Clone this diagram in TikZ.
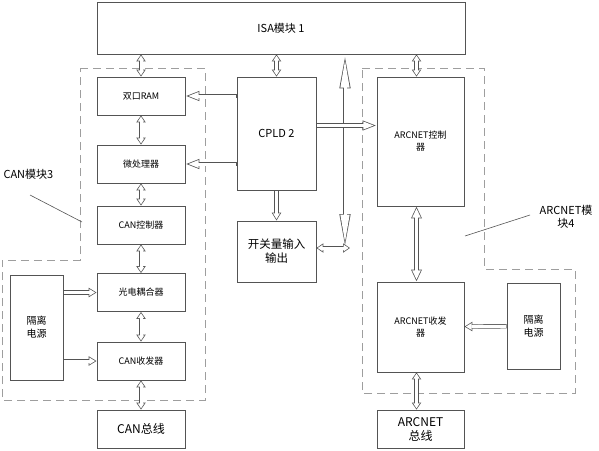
\documentclass[tikz,border=0pt]{standalone}
\usepackage{fontspec}
\setmainfont{Noto Sans CJK SC}
\usetikzlibrary{arrows.meta}
\definecolor{boxline}{rgb}{0.33, 0.33, 0.33}
\definecolor{modline}{rgb}{0.62, 0.62, 0.62}
\tikzset{
    blk/.style={draw=boxline,line width=0.8pt,align=center,inner sep=1pt,font=\fontsize{9}{12}\selectfont},
    big/.style={font=\fontsize{11}{13}\selectfont},
    hollow/.style={draw=boxline,line width=4.4pt},
    % single head, long / short
    one/.style={hollow,-{Triangle[length=14pt,width=9pt]},
        postaction={draw=white,line width=3pt,shorten <=0.4pt,shorten >=2.3pt,-{Triangle[length=11pt,width=7.1pt]}}},
    stub/.style={hollow,-{Triangle[length=8pt,width=9pt]},
        postaction={draw=white,line width=3pt,shorten <=0.4pt,shorten >=1.4pt,-{Triangle[length=5.9pt,width=6.6pt]}}},
    % two heads
    both/.style={hollow,{Triangle[length=7pt,width=9pt]}-{Triangle[length=7pt,width=9pt]},
        postaction={draw=white,line width=3pt,shorten <=1.3pt,shorten >=1.3pt,{Triangle[length=5pt,width=6.4pt]}-{Triangle[length=5pt,width=6.4pt]}}},
    bothlong/.style={hollow,{Triangle[length=12pt,width=10pt]}-{Triangle[length=12pt,width=10pt]},
        postaction={draw=white,line width=3pt,shorten <=1.8pt,shorten >=1.8pt,{Triangle[length=9.5pt,width=7.9pt]}-{Triangle[length=9.5pt,width=7.9pt]}}},
    longtip/.style={hollow,{Triangle[length=34pt,width=10pt]}-{Triangle[length=34pt,width=10pt]},
        postaction={draw=white,line width=3pt,shorten <=4.8pt,shorten >=4.8pt,{Triangle[length=28.5pt,width=8.4pt]}-{Triangle[length=28.5pt,width=8.4pt]}}},
    module/.style={draw=modline,line width=0.8pt,dash pattern=on 8pt off 5pt},
}
\begin{document}
\begin{tikzpicture}[x=1pt,y=-1pt]
    \useasboundingbox (0,0) rectangle (599,450);
    \node[blk,big,minimum width=368,minimum height=52] (isa) at (281,28) {ISA模块 1};
    % CAN column
    \foreach \name/\y/\txt in {ram/96/双口RAM,mcu/164/微处理器,canctl/225/CAN控制器,opto/292.5/光电耦合器,cantr/361/CAN收发器}{
        \node[blk,minimum width=88,minimum height=38] (\name) at (141,\y) {\txt};
    }
    \node[blk,font=\fontsize{12}{14}\selectfont,minimum width=88,minimum height=38] (canbus) at (141,429) {CAN总线};
    \node[blk,font=\fontsize{10}{13}\selectfont,minimum width=53,minimum height=105] (pwrL) at (36.5,327.5) {隔离\\电源};
    \node[blk,big,minimum width=79,minimum height=113] (cpld) at (276.5,133.5) {CPLD 2};
    \node[blk,font=\fontsize{11.5}{14}\selectfont,minimum width=79,minimum height=61] (io) at (276.5,251.5) {开关量输入\\输出};
    % ARCNET column
    \node[blk,minimum width=87,minimum height=129] (arcctl) at (420.5,141.5) {ARCNET控制\\器};
    \node[blk,minimum width=87,minimum height=90] (arctr) at (420.5,327) {ARCNET收发\\器};
    \node[blk,font=\fontsize{10}{13}\selectfont,minimum width=53,minimum height=86] (pwrR) at (533.5,326) {隔离\\电源};
    \node[blk,font=\fontsize{12}{14}\selectfont,minimum width=87,minimum height=38] (arcbus) at (420.5,429) {ARCNET\\总线};
    % module outlines
    \draw[module] (80,68) -- (205,68) -- (205,400) -- (2,400) -- (2,260) -- (80,260) -- cycle;
    \draw[module] (362,68) -- (484,68) -- (484,269) -- (575,269) -- (575,393) -- (362,393) -- cycle;
    \node[big,anchor=west] (canlbl) at (0,174) {CAN模块3};
    \node[big,align=center] (arclbl) at (566,217) {ARCNET模\\块4};
    \draw[boxline,line width=0.6pt] (30,195) -- (82,222);
    \draw[boxline,line width=0.6pt] (465,236) -- (530,215);
    % connectors
    \coordinate (bus) at (345,248);
    \draw[longtip] (bus |- isa.south) -- (bus);
    \draw[both] (io.east |- bus) -- ([xshift=5]bus);
    \draw[both] (ram.north |- isa.south) -- (ram.north);
    \draw[both] (cpld.north |- isa.south) -- (cpld.north);
    \draw[both] ([xshift=-4]arcctl.north |- isa.south) -- ([xshift=-4]arcctl.north);
    \draw[both] (ram) -- (mcu);
    \draw[both] (mcu) -- (canctl);
    \draw[both] (canctl) -- (opto);
    \draw[both] (opto) -- (cantr);
    \draw[both] (cantr) -- (canbus);
    \draw[one] (cpld.west |- ram) -- (ram.east);
    \draw[one] (cpld.west |- mcu) -- (mcu.east);
    \draw[stub] (pwrL.east |- opto) -- (opto.west);
    \draw[stub] (pwrL.east |- cantr) -- (cantr.west);
    \draw[stub] (cpld) -- (io);
    \coordinate (tap) at ([yshift=8]cpld.east);
    \draw[one] (tap) -- (tap -| arcctl.west);
    \draw[bothlong] ([xshift=-4]arcctl.south) -- ([xshift=-4]arctr.north);
    \draw[both] ([xshift=-4]arctr.south) -- ([xshift=-4]arcbus.north);
    \draw[stub] (pwrR) -- (arctr);
\end{tikzpicture}
\end{document}
